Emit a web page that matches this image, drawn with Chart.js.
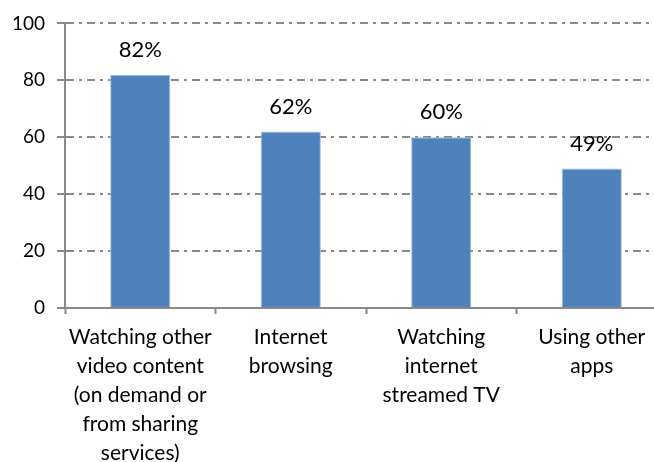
<!DOCTYPE html>
<html lang="en">

<head>
    <meta charset="UTF-8">
    <title>Activities</title>
    <style>
        html, body { margin: 0; padding: 0; background: #fff; overflow: hidden; }
        #wrap { width: 654px; height: 462px; overflow: hidden; }
        #box { width: 670px; height: 462px; }
    </style>
</head>

<body>
    <div id="wrap">
        <div id="box">
            <canvas id="myChart" aria-label="Activities chart" role="img"></canvas>
        </div>
    </div>
    <script src="https://cdn.jsdelivr.net/npm/chart.js"></script>
    <script>
        // categories and values
        var categories = [
            ['Watching other', 'video content', '(on demand or', 'from sharing', 'services)'],
            ['Internet', 'browsing'],
            ['Watching', 'internet', 'streamed TV'],
            ['Using other', 'apps']
        ];
        var values = [82, 62, 60, 49];
        var yTicks = [0, 20, 40, 60, 80, 100];

        var FONT = 'Lato, "Open Sans", sans-serif';
        var GRAY = '#898989';

        // percent labels above each bar
        var valueLabels = {
            id: 'valueLabels',
            afterDatasetsDraw: function (chart) {
                var ctx = chart.ctx;
                var meta = chart.getDatasetMeta(0);
                ctx.save();
                ctx.font = '22px ' + FONT;
                ctx.fillStyle = '#000';
                ctx.textAlign = 'center';
                ctx.textBaseline = 'middle';
                meta.data.forEach(function (bar, i) {
                    ctx.fillText(values[i] + '%', bar.x, bar.y - 25);
                });
                ctx.restore();
            }
        };

        var ctx1 = document.getElementById('myChart');
        var myChart = new Chart(ctx1, {
            type: 'bar',
            data: {
                labels: categories,
                datasets: [{
                    data: values,
                    backgroundColor: '#4F81BD',
                    borderColor: '#A7C0DE',
                    borderWidth: { left: 1, right: 1, top: 1, bottom: 0 },
                    categoryPercentage: 0.4,
                    barPercentage: 1
                }]
            },
            options: {
                responsive: true,
                maintainAspectRatio: false,
                animation: false,
                layout: {
                    padding: { top: 23, right: 3, left: 0, bottom: 0 }
                },
                plugins: {
                    legend: { display: false },
                    tooltip: { enabled: false }
                },
                scales: {
                    x: {
                        offset: true,
                        afterFit: function (scale) { scale.height = 154; },
                        grid: {
                            offset: true,
                            drawOnChartArea: false,
                            tickLength: 6,
                            tickColor: GRAY,
                            tickWidth: 2
                        },
                        border: { color: GRAY, width: 2 },
                        ticks: {
                            color: '#000',
                            padding: 9,
                            maxRotation: 0,
                            autoSkip: false,
                            font: { family: FONT, size: 21, lineHeight: 1.38 }
                        }
                    },
                    y: {
                        min: 0,
                        max: 100,
                        afterFit: function (scale) { scale.width = 65; },
                        afterBuildTicks: function (scale) {
                            scale.ticks = yTicks.map(function (v) { return { value: v }; });
                        },
                        grid: {
                            color: GRAY,
                            lineWidth: 2,
                            tickLength: 8,
                            tickColor: GRAY,
                            tickWidth: 2,
                            tickBorderDash: []
                        },
                        border: { color: GRAY, width: 2, dash: [8, 5, 3, 5] },
                        ticks: {
                            color: '#000',
                            padding: 12,
                            font: { family: FONT, size: 19 }
                        }
                    }
                }
            },
            plugins: [valueLabels]
        });
    </script>
</body>

</html>
